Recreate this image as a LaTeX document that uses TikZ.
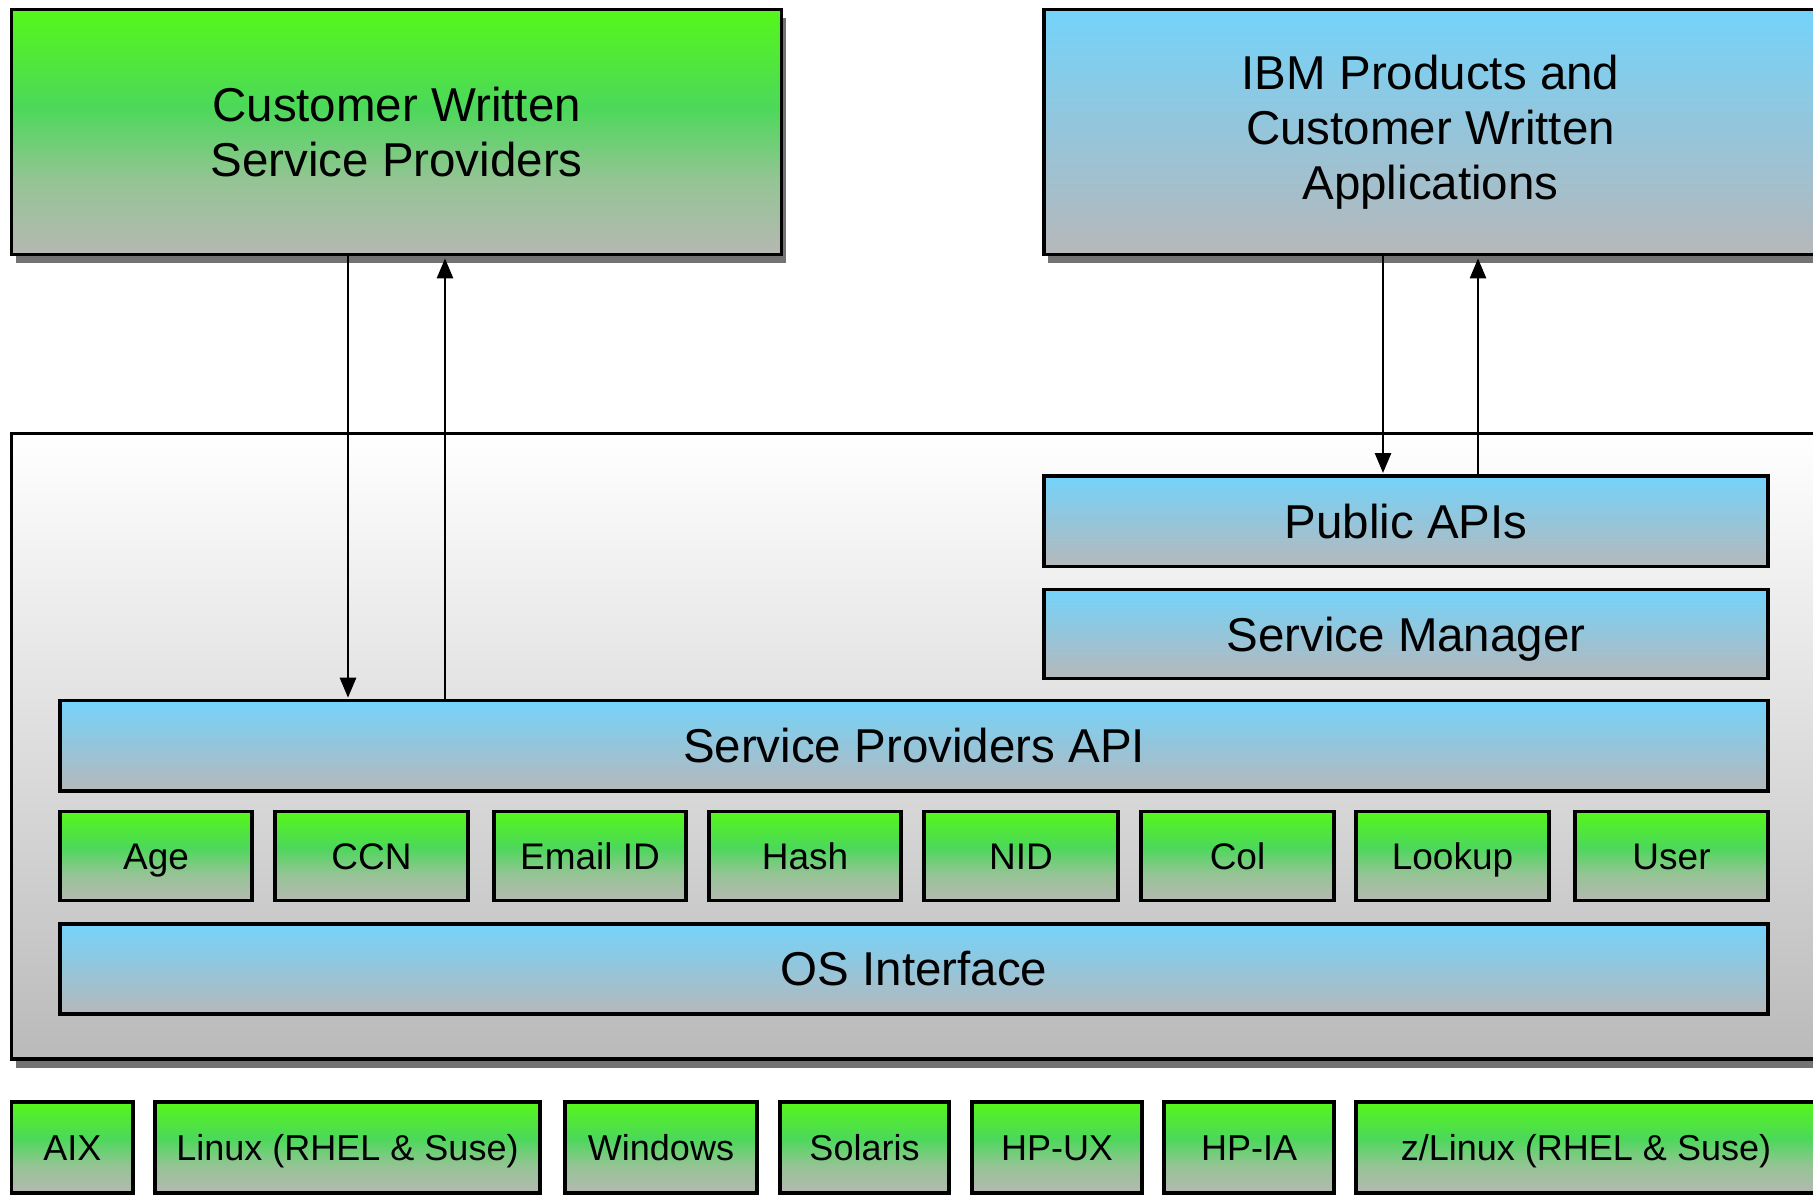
\documentclass[tikz,border=0pt]{standalone}
\usepackage{fontspec}
\setmainfont{Liberation Sans}
\usetikzlibrary{arrows.meta,shadows}

\definecolor{gtop}{RGB}{85,247,26}
\definecolor{gmA}{RGB}{76,216,90}
\definecolor{gmB}{RGB}{149,196,149}
\definecolor{gbot}{RGB}{181,184,178}
\definecolor{btop}{RGB}{116,211,250}
\definecolor{bmid}{RGB}{149,197,218}
\definecolor{bbot}{RGB}{182,184,186}
\definecolor{ctop}{RGB}{255,255,255}
\definecolor{cmid}{RGB}{228,228,228}
\definecolor{cbot}{RGB}{186,186,186}

\pgfdeclareverticalshading{greensh}{100bp}{color(0bp)=(gbot); color(25bp)=(gbot); color(40bp)=(gmB); color(55bp)=(gmA); color(75bp)=(gtop); color(100bp)=(gtop)}
\pgfdeclareverticalshading{bluesh}{100bp}{color(0bp)=(bbot); color(25bp)=(bbot); color(50bp)=(bmid); color(75bp)=(btop); color(100bp)=(btop)}
\pgfdeclareverticalshading{greysh}{100bp}{color(0bp)=(cbot); color(25bp)=(cbot); color(55bp)=(cmid); color(75bp)=(ctop); color(100bp)=(ctop)}

\newcommand\placebox[7]{\node[#1, minimum width={(#5-#3)*0.5pt}, minimum height={(#6-#4)*0.5pt}] (#2) at ({(#3+#5)/2},{(#4+#6)/2}) {#7};}

\tikzset{
  box/.style={draw=black, line width=1.6pt, inner sep=0pt, outer sep=0pt, align=center},
  gbox/.style={box, shading=greensh},
  bbox/.style={box, shading=bluesh},
  cbox/.style={box, shading=greysh},
  bigtxt/.style={font=\fontsize{23.75}{27.5}\selectfont},
  bigone/.style={bigtxt, text height=17pt, text depth=0pt},
  smalltxt/.style={font=\fontsize{18.5}{22}\selectfont, text height=13.25pt, text depth=0pt},
  plattxt/.style={font=\fontsize{18}{22}\selectfont, text height=12.9pt, text depth=0pt},
  shad/.style={drop shadow={shadow xshift=2pt, shadow yshift=-4.5pt, fill=black!55, opacity=1}},
  arr/.style={line width=1.4pt, -{Triangle[width=8pt,length=10pt]}},
}

\begin{document}
\begin{tikzpicture}[x=0.5pt,y=-0.5pt]
\useasboundingbox (0,0) rectangle (1813,1196);
\fill[white] (0,0) rectangle (1813,1196);

% top boxes
\placebox{gbox,shad,bigtxt}{cust}{11.6}{9.2}{781.7}{254.4}{Customer Written\\Service Providers}
\placebox{bbox,shad,bigtxt}{ibm}{1044}{9.2}{1817}{254.4}{IBM Products and\\Customer Written\\Applications}

% container
\placebox{cbox,shad}{cont}{11.6}{433.6}{1817}{1059}{}

\placebox{bbox,bigone}{papi}{1044}{476}{1768}{566.6}{Public APIs}
\placebox{bbox,bigone}{smgr}{1044}{589.7}{1768}{678.7}{Service Manager}
\placebox{bbox,bigone}{spapi}{60}{700.7}{1768}{790.9}{Service Providers API}

\placebox{gbox,smalltxt}{age}{60}{811.7}{252}{900.7}{Age}
\placebox{gbox,smalltxt}{ccn}{275}{811.7}{468}{900.7}{CCN}
\placebox{gbox,smalltxt}{email}{494}{811.7}{686}{900.7}{Email ID}
\placebox{gbox,smalltxt}{hash}{709}{811.7}{901}{900.7}{Hash}
\placebox{gbox,smalltxt}{nid}{924}{811.7}{1118}{900.7}{NID}
\placebox{gbox,smalltxt}{col}{1141}{811.7}{1334}{900.7}{Col}
\placebox{gbox,smalltxt}{lookup}{1356}{811.7}{1549}{900.7}{Lookup}
\placebox{gbox,smalltxt}{user}{1575}{811.7}{1768}{900.7}{User}

\placebox{bbox,bigone}{os}{60}{923.9}{1768}{1014}{OS Interface}

% platforms
\placebox{gbox,plattxt}{aix}{11.6}{1102}{133}{1193}{AIX}
\placebox{gbox,plattxt}{linux}{155}{1102}{540}{1193}{Linux (RHEL \& Suse)}
\placebox{gbox,plattxt}{win}{565}{1102}{757}{1193}{Windows}
\placebox{gbox,plattxt}{sol}{780}{1102}{949}{1193}{Solaris}
\placebox{gbox,plattxt}{hpux}{972}{1102}{1142}{1193}{HP-UX}
\placebox{gbox,plattxt}{hpia}{1164}{1102}{1334}{1193}{HP-IA}
\placebox{gbox,plattxt}{zlinux}{1356}{1102}{1816}{1193}{z/Linux (RHEL \& Suse)}

% connectors
\coordinate (c1) at (348,0);
\coordinate (c2) at (445,0);
\coordinate (c3) at (1383,0);
\coordinate (c4) at (1478,0);
\draw[arr, shorten >=1.5pt] (cust.south -| c1) -- (spapi.north -| c1);
\draw[arr, shorten >=2pt] (spapi.north -| c2) -- (cust.south -| c2);
\draw[arr, shorten >=1.5pt] (ibm.south -| c3) -- (papi.north -| c3);
\draw[arr, shorten >=2pt] (papi.north -| c4) -- (ibm.south -| c4);
\end{tikzpicture}
\end{document}
